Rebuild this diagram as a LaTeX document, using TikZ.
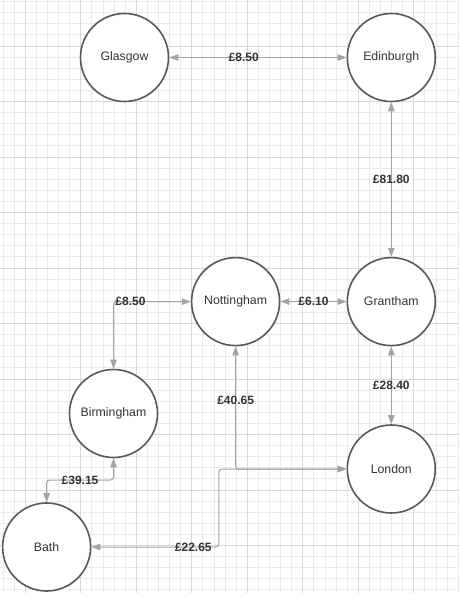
\documentclass[tikz,border=0pt]{standalone}
\usepackage{fontspec}
\setmainfont{Liberation Sans}
\usetikzlibrary{arrows.meta}
\definecolor{gridminor}{HTML}{EBEBEB}
\definecolor{gridmajor}{HTML}{D8D8D8}
\definecolor{circ}{HTML}{595959}
\definecolor{conncol}{HTML}{A3A3A3}
\definecolor{txt}{HTML}{333333}
\tikzset{
  city/.style={circle, draw=circ, line width=1.6pt, fill=white, minimum size=88pt, inner sep=0pt, text=txt, font=\fontsize{12.3}{14}\selectfont},
  conn/.style={draw=conncol, line width=1pt, rounded corners=3pt, {Triangle[length=9pt,width=6.5pt]}-{Triangle[length=9pt,width=6.5pt]}},
  lbl/.style={text=txt, font=\bfseries\fontsize{12}{14}\selectfont, inner sep=1pt},
  minorline/.style={draw=gridminor, line width=0.9pt},
  majorline/.style={draw=gridmajor, line width=0.9pt}
}
\begin{document}
\begin{tikzpicture}[x=1pt,y=-1pt]
\useasboundingbox (0,0) rectangle (459,593);
\fill[white] (0,0) rectangle (459,593);
% grid
\foreach \i in {0,...,41} \draw[minorline] ({3.1+11.1*\i},0) -- ({3.1+11.1*\i},593);
\foreach \j in {0,...,53} \draw[minorline] (0,{1.6+11.1*\j}) -- (459,{1.6+11.1*\j});
\foreach \i in {0,...,7} \draw[majorline] ({25.3+55.5*\i},0) -- ({25.3+55.5*\i},593);
\foreach \j in {0,...,9} \draw[majorline] (0,{46+55.5*\j}) -- (459,{46+55.5*\j});
% cities
\node[city] (glas) at (124.5,57.5) {Glasgow};
\node[city] (edin) at (391.3,57.5) {Edinburgh};
\node[city] (nott) at (235.6,301.6) {Nottingham};
\node[city] (gran) at (391.3,301.6) {Grantham};
\node[city] (birm) at (113.5,413.5) {Birmingham};
\node[city] (lond) at (391.3,469) {London};
\node[city] (bath) at (46.6,547) {Bath};
% helper coordinates
\coordinate (bmid) at (113.5,480);
\coordinate (ljoin) at (218.8,469);
% connectors
\draw[conn] (glas) -- node[lbl,pos=0.42] (l1) {£8.50} (edin);
\draw[conn] (edin) -- node[lbl] (l2) {£81.80} (gran);
\draw[conn] (nott) -- node[lbl] (l3) {£6.10} (gran);
\draw[conn] (gran) -- node[lbl] (l4) {£28.40} (lond);
\draw[conn] (nott.west) -| node[lbl,pos=0.39] (l5) {£8.50} (birm.north);
\draw[conn] (birm.south) -- (bmid) -| node[lbl,pos=0.25] (l6) {£39.15} (bath.north);
\draw[conn] (nott.south) |- node[lbl,pos=0.22] (l7) {£40.65} (lond.west);
\draw[conn] (bath.east) -| node[lbl,pos=0.4] (l8) {£22.65} (ljoin) -- (lond.west);
\end{tikzpicture}
\end{document}
